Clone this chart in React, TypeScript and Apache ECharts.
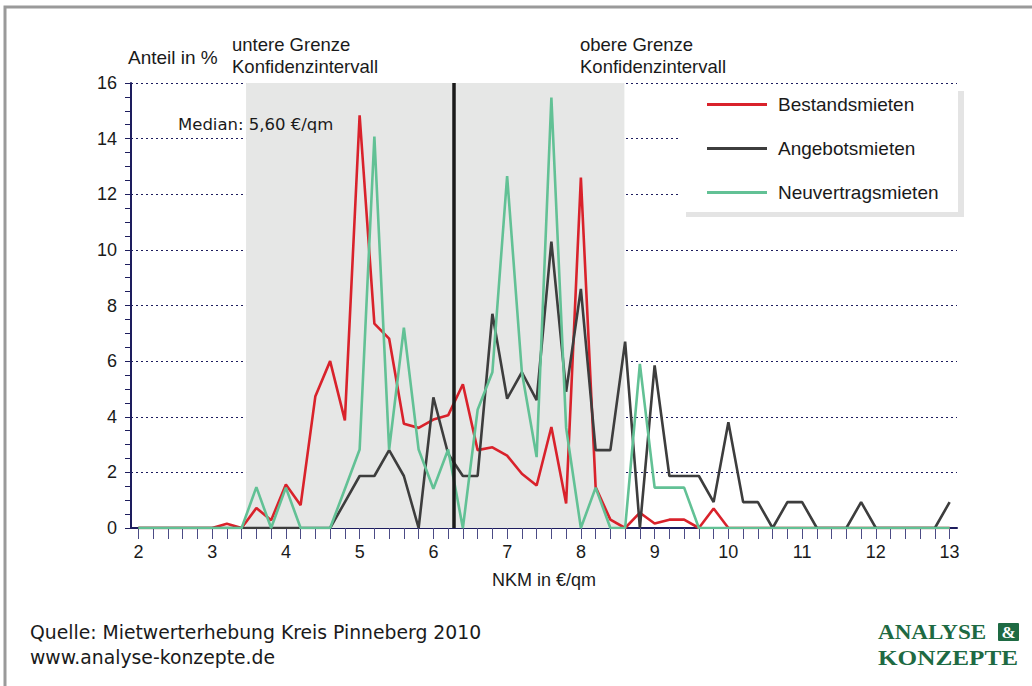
import React, { useEffect, useRef } from "react";
import * as echarts from "echarts";

const xValues = [
  2, 2.2, 2.4, 2.6, 2.8, 3, 3.2, 3.4, 3.6, 3.8, 4, 4.2, 4.4, 4.6, 4.8, 5, 5.2, 5.4, 5.6, 5.8,
  6, 6.2, 6.4, 6.6, 6.8, 7, 7.2, 7.4, 7.6, 7.8, 8, 8.2, 8.4, 8.6, 8.8, 9, 9.2, 9.4, 9.6, 9.8,
  10, 10.2, 10.4, 10.6, 10.8, 11, 11.2, 11.4, 11.6, 11.8, 12, 12.2, 12.4, 12.6, 12.8, 13,
];
const xTickLabels = [2, 3, 4, 5, 6, 7, 8, 9, 10, 11, 12, 13];

const bestandsmieten = [
  0, 0, 0, 0, 0,
  0, 0.15, 0, 0.72, 0.28,
  1.56, 0.82, 4.74, 6.0, 3.87,
  14.84, 7.35, 6.81, 3.75, 3.6,
  3.9, 4.05, 5.17, 2.8, 2.9,
  2.6, 1.95, 1.53, 3.63, 0.88,
  12.6, 1.47, 0.3, 0, 0.55,
  0.16, 0.3, 0.3, 0, 0.7,
  0, 0, 0, 0, 0,
  0, 0, 0, 0, 0,
  0, 0, 0, 0, 0,
  0,
];
const angebotsmieten = [
  0, 0, 0, 0, 0,
  0, 0, 0, 0, 0,
  0, 0, 0, 0, 0.93,
  1.87, 1.87, 2.8, 1.87, 0,
  4.7, 2.67, 1.87, 1.87, 7.7,
  4.65, 5.6, 4.6, 10.3, 4.9,
  8.6, 2.8, 2.8, 6.7, 0,
  5.85, 1.87, 1.87, 1.87, 0.93,
  3.8, 0.93, 0.93, 0, 0.93,
  0.93, 0, 0, 0, 0.93,
  0, 0, 0, 0, 0,
  0.93,
];
const neuvertragsmieten = [
  0, 0, 0, 0, 0,
  0, 0, 0, 1.47, 0,
  1.45, 0, 0, 0, 1.4,
  2.82, 14.07, 2.82, 7.2, 2.82,
  1.41, 2.82, 0, 4.25, 5.6,
  12.65, 5.6, 2.55, 15.48, 3.6,
  0, 1.45, 0, 0, 5.9,
  1.45, 1.45, 1.45, 0, 0,
  0, 0, 0, 0, 0,
  0, 0, 0, 0, 0,
  0, 0, 0, 0, 0,
  0,
];

const seriesNames = ["Bestandsmieten", "Angebotsmieten", "Neuvertragsmieten"];
const seriesColors = ["#d9222b", "#3d3d3d", "#62c195"];
const confidenceLower = 3.46;
const confidenceUpper = 8.59;
const medianLine = 6.27;

const NAVY = "#1d1d5e";
const SANS = "'Liberation Sans', Arial, sans-serif";
const TAHOMA = "'DejaVu Sans', Verdana, sans-serif";
const SERIF = "'Liberation Serif', 'DejaVu Serif', serif";
const LOGO_GREEN = "#1e6a43";

export default function App() {
  const ref = useRef<HTMLDivElement>(null);

  useEffect(() => {
    if (!ref.current) return;
    const chart = echarts.init(ref.current, null, { renderer: "svg" });
    const pair = (arr: number[]) => xValues.map((x, i) => [x, arr[i]]);
    const allSeries = [bestandsmieten, angebotsmieten, neuvertragsmieten];

    const option: any = {
      animation: false,
      backgroundColor: "#ffffff",
      grid: { left: 131, right: 75, top: 83, bottom: 158, containLabel: false },
      xAxis: {
        type: "value",
        min: 1.9,
        max: 13.1,
        name: "NKM in €/qm",
        nameLocation: "middle",
        nameGap: 43,
        nameTextStyle: { fontFamily: SANS, fontSize: 18, color: "#1a1a1a" },
        axisLine: { show: true, onZero: false, lineStyle: { color: NAVY, width: 2 } },
        axisTick: {
          show: true,
          length: 11,
          customValues: xValues,
          lineStyle: { color: "#4b4b85", width: 1 },
        },
        axisLabel: {
          customValues: xTickLabels,
          fontFamily: SANS,
          fontSize: 18,
          color: "#1a1a1a",
          margin: 15,
        },
        splitLine: { show: false },
      },
      yAxis: {
        type: "value",
        min: 0,
        max: 16,
        interval: 2,
        axisLine: { show: true, lineStyle: { color: NAVY, width: 2 } },
        axisTick: { show: true, length: 6, lineStyle: { color: NAVY, width: 1 } },
        minorTick: { show: true, splitNumber: 4, length: 6, lineStyle: { color: NAVY, width: 1 } },
        axisLabel: { fontFamily: SANS, fontSize: 18, color: "#1a1a1a", margin: 14 },
        splitLine: { show: true, lineStyle: { color: NAVY, width: 1, type: [2, 3] } },
      },
      legend: {
        data: seriesNames,
        orient: "vertical",
        left: 702,
        top: 90,
        icon: "rect",
        itemWidth: 60,
        itemHeight: 3,
        itemGap: 25,
        z: 20,
        textStyle: { fontFamily: SANS, fontSize: 19, color: "#1a1a1a", padding: [0, 0, 0, 6] },
      },
      graphic: [
        { type: "rect", z: 0, shape: { x: 5, y: 7, width: 1040, height: 700 }, style: { fill: "none", stroke: "#9a9a9a", lineWidth: 3 } },
        { type: "rect", z: 8, shape: { x: 686, y: 91, width: 278, height: 126 }, style: { fill: "#e4e4e4" } },
        { type: "rect", z: 9, shape: { x: 680, y: 86, width: 278, height: 126 }, style: { fill: "#ffffff" } },
        { type: "text", z: 10, x: 128, y: 57, style: { text: "Anteil in %", font: `19px ${SANS}`, fill: "#1a1a1a", textVerticalAlign: "middle" } },
        { type: "text", z: 10, x: 232, y: 44, style: { text: "untere Grenze", font: `18.5px ${SANS}`, fill: "#1a1a1a", textVerticalAlign: "middle" } },
        { type: "text", z: 10, x: 232, y: 66, style: { text: "Konfidenzintervall", font: `18.5px ${SANS}`, fill: "#1a1a1a", textVerticalAlign: "middle" } },
        { type: "text", z: 10, x: 580, y: 44, style: { text: "obere Grenze", font: `18.5px ${SANS}`, fill: "#1a1a1a", textVerticalAlign: "middle" } },
        { type: "text", z: 10, x: 580, y: 66, style: { text: "Konfidenzintervall", font: `18.5px ${SANS}`, fill: "#1a1a1a", textVerticalAlign: "middle" } },
        { type: "text", z: 10, x: 178, y: 124, style: { text: "Median: 5,60 €/qm", font: `16.5px ${TAHOMA}`, fill: "#1a1a1a", textVerticalAlign: "middle" } },
        { type: "text", z: 10, x: 30, y: 632, style: { text: "Quelle: Mietwerterhebung Kreis Pinneberg 2010", font: `18.8px ${TAHOMA}`, fill: "#1a1a1a", textVerticalAlign: "middle" } },
        { type: "text", z: 10, x: 30, y: 657, style: { text: "www.analyse-konzepte.de", font: `18.8px ${TAHOMA}`, fill: "#1a1a1a", textVerticalAlign: "middle" } },
        { type: "text", z: 10, x: 878, y: 632, scaleX: 1.1, style: { text: "ANALYSE", font: `bold 21px ${SERIF}`, fill: LOGO_GREEN, textVerticalAlign: "middle" } },
        { type: "rect", z: 10, shape: { x: 998, y: 623, width: 21, height: 18, r: 1 }, style: { fill: LOGO_GREEN } },
        { type: "text", z: 11, x: 1008.5, y: 632.5, style: { text: "&", font: `bold 17px ${SERIF}`, fill: "#ffffff", textAlign: "center", textVerticalAlign: "middle" } },
        { type: "text", z: 10, x: 878, y: 658, scaleX: 1.2, style: { text: "KONZEPTE", font: `bold 21px ${SERIF}`, fill: LOGO_GREEN, textVerticalAlign: "middle" } },
      ],
      series: [
        {
          name: "Konfidenzintervall",
          type: "line",
          z: -1,
          data: [],
          silent: true,
          symbol: "none",
          markArea: {
            silent: true,
            itemStyle: { color: "#e6e7e6" },
            data: [[{ xAxis: confidenceLower, yAxis: 0 }, { xAxis: confidenceUpper, yAxis: 16 }]],
          },
        },
        ...allSeries.map((arr, i) => ({
          name: seriesNames[i],
          type: "line",
          data: pair(arr),
          symbol: "none",
          showSymbol: false,
          lineStyle: { color: seriesColors[i], width: 2.6 },
          itemStyle: { color: seriesColors[i] },
          z: 2 + i,
        })),
        {
          name: "Median",
          type: "line",
          z: 1,
          data: [],
          silent: true,
          symbol: "none",
          markLine: {
            silent: true,
            symbol: "none",
            label: { show: false },
            lineStyle: { color: "#1a1a1a", width: 3.5, type: "solid" },
            data: [{ xAxis: medianLine }],
          },
        },
      ],
    };
    chart.setOption(option);
    return () => chart.dispose();
  }, []);

  return (
    <div
      ref={ref}
      style={{ position: "fixed", left: 0, top: 0, width: 1032, height: 686, background: "#fff" }}
    />
  );
}
